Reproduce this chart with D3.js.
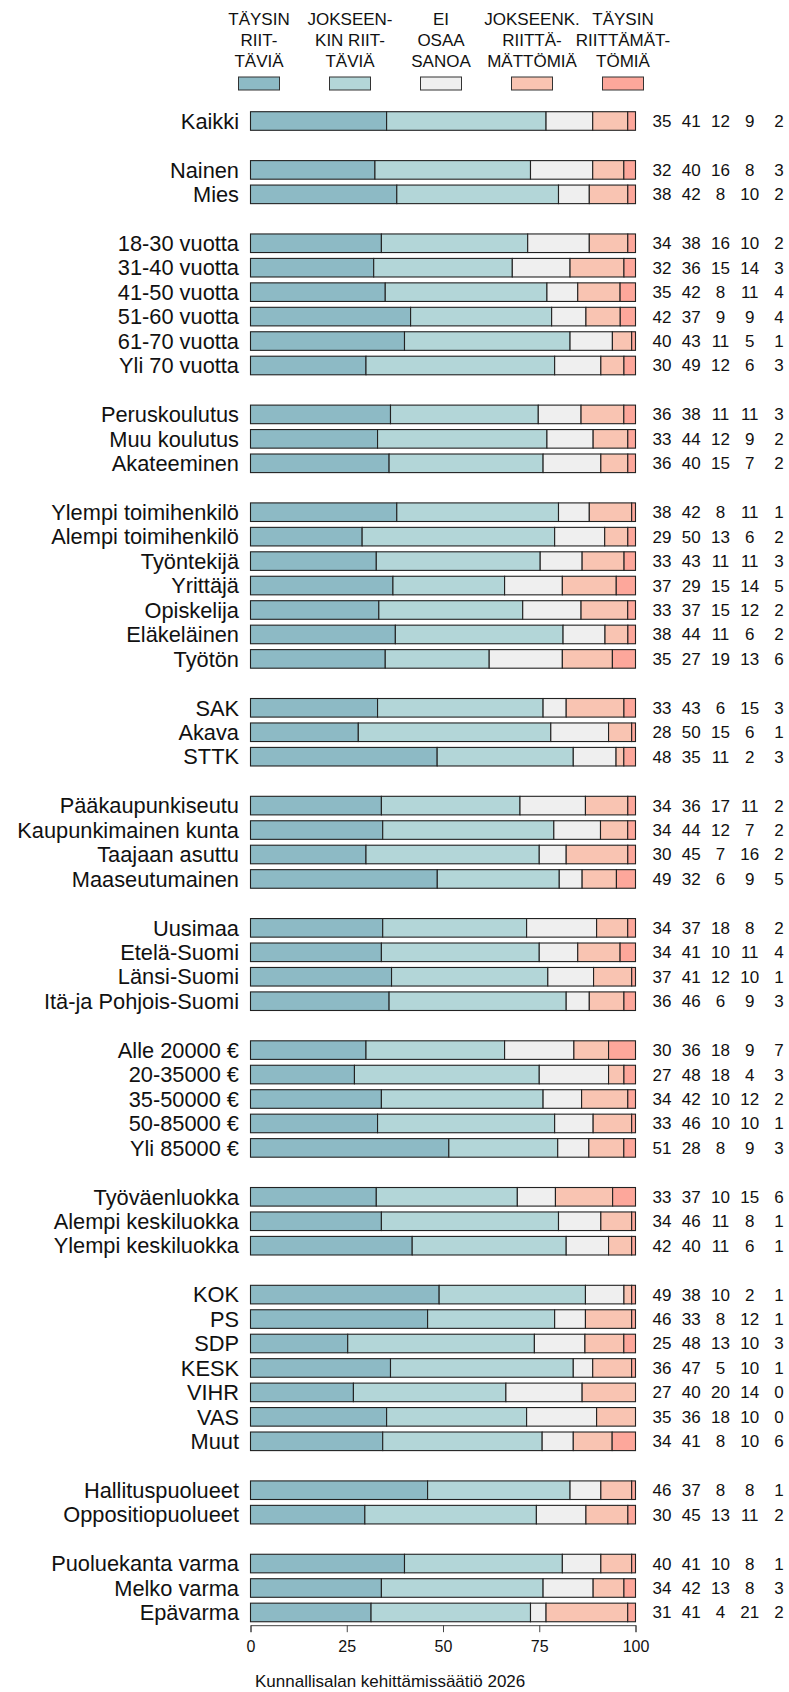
<!DOCTYPE html>
<html>
<head>
<meta charset="utf-8">
<script src="https://cdn.jsdelivr.net/npm/d3@7"></script>
<style>
  body { margin: 0; background: #fff; }
  text { font-family: "Liberation Sans", Arial, sans-serif; fill: #111; }
</style>
</head>
<body>
<div id="chart"></div>
<script>
// answer categories (legend), top to bottom lines
const seriesNames = [
    ["TÄYSIN", "RIIT-", "TÄVIÄ"],
    ["JOKSEEN-", "KIN RIIT-", "TÄVIÄ"],
    ["EI", "OSAA", "SANOA"],
    ["JOKSEENK.", "RIITTÄ-", "MÄTTÖMIÄ"],
    ["TÄYSIN", "RIITTÄMÄT-", "TÖMIÄ"]
];
const colors = ["#8dbac5", "#b3d6d8", "#efefef", "#f9c4b2", "#fda79b"];

const categories = [
    "Kaikki",
    "Nainen", "Mies",
    "18-30 vuotta", "31-40 vuotta", "41-50 vuotta", "51-60 vuotta", "61-70 vuotta", "Yli 70 vuotta",
    "Peruskoulutus", "Muu koulutus", "Akateeminen",
    "Ylempi toimihenkilö", "Alempi toimihenkilö", "Työntekijä", "Yrittäjä", "Opiskelija", "Eläkeläinen", "Työtön",
    "SAK", "Akava", "STTK",
    "Pääkaupunkiseutu", "Kaupunkimainen kunta", "Taajaan asuttu", "Maaseutumainen",
    "Uusimaa", "Etelä-Suomi", "Länsi-Suomi", "Itä-ja Pohjois-Suomi",
    "Alle 20000 €", "20-35000 €", "35-50000 €", "50-85000 €", "Yli 85000 €",
    "Työväenluokka", "Alempi keskiluokka", "Ylempi keskiluokka",
    "KOK", "PS", "SDP", "KESK", "VIHR", "VAS", "Muut",
    "Hallituspuolueet", "Oppositiopuolueet",
    "Puoluekanta varma", "Melko varma", "Epävarma"
];
const groupSizes = [1, 2, 6, 3, 7, 3, 4, 4, 5, 3, 7, 2, 3];

const taysinRiittavia = [35, 32, 38, 34, 32, 35, 42, 40, 30, 36, 33, 36, 38, 29, 33, 37, 33, 38, 35,
    33, 28, 48, 34, 34, 30, 49, 34, 34, 37, 36, 30, 27, 34, 33, 51, 33, 34, 42,
    49, 46, 25, 36, 27, 35, 34, 46, 30, 40, 34, 31];
const jokseenkinRiittavia = [41, 40, 42, 38, 36, 42, 37, 43, 49, 38, 44, 40, 42, 50, 43, 29, 37, 44, 27,
    43, 50, 35, 36, 44, 45, 32, 37, 41, 41, 46, 36, 48, 42, 46, 28, 37, 46, 40,
    38, 33, 48, 47, 40, 36, 41, 37, 45, 41, 42, 41];
const eiOsaaSanoa = [12, 16, 8, 16, 15, 8, 9, 11, 12, 11, 12, 15, 8, 13, 11, 15, 15, 11, 19,
    6, 15, 11, 17, 12, 7, 6, 18, 10, 12, 6, 18, 18, 10, 10, 8, 10, 11, 11,
    10, 8, 13, 5, 20, 18, 8, 8, 13, 10, 13, 4];
const jokseenkinRiittamattomia = [9, 8, 10, 10, 14, 11, 9, 5, 6, 11, 9, 7, 11, 6, 11, 14, 12, 6, 13,
    15, 6, 2, 11, 7, 16, 9, 8, 11, 10, 9, 9, 4, 12, 10, 9, 15, 8, 6,
    2, 12, 10, 10, 14, 10, 10, 8, 11, 8, 8, 21];
const taysinRiittamattomia = [2, 3, 2, 2, 3, 4, 4, 1, 3, 3, 2, 2, 1, 2, 3, 5, 2, 2, 6,
    3, 1, 3, 2, 2, 2, 5, 2, 4, 1, 3, 7, 3, 2, 1, 3, 6, 1, 1,
    1, 1, 3, 1, 0, 0, 6, 1, 2, 1, 3, 2];

const xTicks = [0, 25, 50, 75, 100];

const width = 789;
const height = 1692;

const series = [taysinRiittavia, jokseenkinRiittavia, eiOsaaSanoa, jokseenkinRiittamattomia, taysinRiittamattomia];

// slot keys: one slot per row and an empty slot between groups
const slots = [];
const rowSlot = [];
let idx = 0;
groupSizes.forEach((n, g) => {
    if (g > 0) slots.push("gap" + g);
    for (let i = 0; i < n; i++) {
        slots.push("row" + idx);
        rowSlot.push("row" + idx);
        idx++;
    }
});

const step = 24.45;
const yTop = 121 - step / 2;
const y = d3.scaleBand()
    .domain(slots)
    .range([yTop, yTop + step * slots.length])
    .paddingInner(0.24)
    .paddingOuter(0.12);

const x = d3.scaleLinear()
    .domain([0, 100])
    .range([250.5, 635.5]);

const valueX = d3.scalePoint()
    .domain(d3.range(5))
    .range([662, 779]);

const rows = categories.map((c, i) => {
    const vals = series.map(s => s[i]);
    const total = d3.sum(vals);
    let acc = 0;
    const segs = vals.map((v, k) => {
        const s = { k: k, x0: acc / total * 100, x1: (acc + v) / total * 100 };
        acc += v;
        return s;
    });
    return { label: c, slot: rowSlot[i], vals: vals, segs: segs };
});

const svg = d3.select("#chart")
    .append("svg")
    .attr("width", width)
    .attr("height", height);

svg.append("rect").attr("width", width).attr("height", height).attr("fill", "#fff");

// legend
const legendX = d3.scalePoint()
    .domain(d3.range(5))
    .range([259, 623]);

const legend = svg.append("g")
    .selectAll("g")
    .data(seriesNames)
    .enter()
    .append("g")
    .attr("transform", (d, i) => `translate(${legendX(i)},0)`);

legend.each(function(lines) {
    const g = d3.select(this);
    lines.forEach((t, j) => {
        g.append("text")
            .attr("x", 0)
            .attr("y", 25 + j * 20.8)
            .attr("text-anchor", "middle")
            .attr("font-size", 17)
            .text(t);
    });
});

legend.append("rect")
    .attr("x", -20.5)
    .attr("y", 77)
    .attr("width", 41)
    .attr("height", 13)
    .attr("fill", (d, i) => colors[i])
    .attr("stroke", "#333")
    .attr("stroke-width", 1);

// bars
const rowG = svg.append("g")
    .selectAll("g")
    .data(rows)
    .enter()
    .append("g")
    .attr("transform", d => `translate(0,${y(d.slot)})`);

rowG.selectAll("rect")
    .data(d => d.segs)
    .enter()
    .append("rect")
    .attr("x", d => x(d.x0))
    .attr("width", d => x(d.x1) - x(d.x0))
    .attr("y", 0)
    .attr("height", y.bandwidth())
    .attr("fill", d => colors[d.k])
    .attr("stroke", "#222")
    .attr("stroke-width", 1.1);

rowG.append("text")
    .attr("x", 239)
    .attr("y", y.bandwidth() / 2 + 7.7)
    .attr("text-anchor", "end")
    .attr("font-size", 21.8)
    .text(d => d.label);

rowG.selectAll("text.val")
    .data(d => d.vals)
    .enter()
    .append("text")
    .attr("class", "val")
    .attr("x", (d, i) => valueX(i))
    .attr("y", y.bandwidth() / 2 + 6)
    .attr("text-anchor", "middle")
    .attr("font-size", 17)
    .text(d => d);

// x axis
const axisY = y.range()[1] + 0.5;
const axis = svg.append("g")
    .attr("transform", `translate(0,${axisY})`)
    .call(d3.axisBottom(x).tickValues(xTicks).tickSize(7).tickPadding(8));

axis.select(".domain").attr("stroke", "#444");
axis.selectAll(".tick line").attr("stroke", "#444");
axis.selectAll(".tick text")
    .attr("font-size", 16)
    .attr("font-family", "Liberation Sans, Arial, sans-serif")
    .attr("fill", "#111");

svg.append("text")
    .attr("x", 255)
    .attr("y", 1687)
    .attr("font-size", 17)
    .text("Kunnallisalan kehittämissäätiö 2026");
</script>
</body>
</html>
